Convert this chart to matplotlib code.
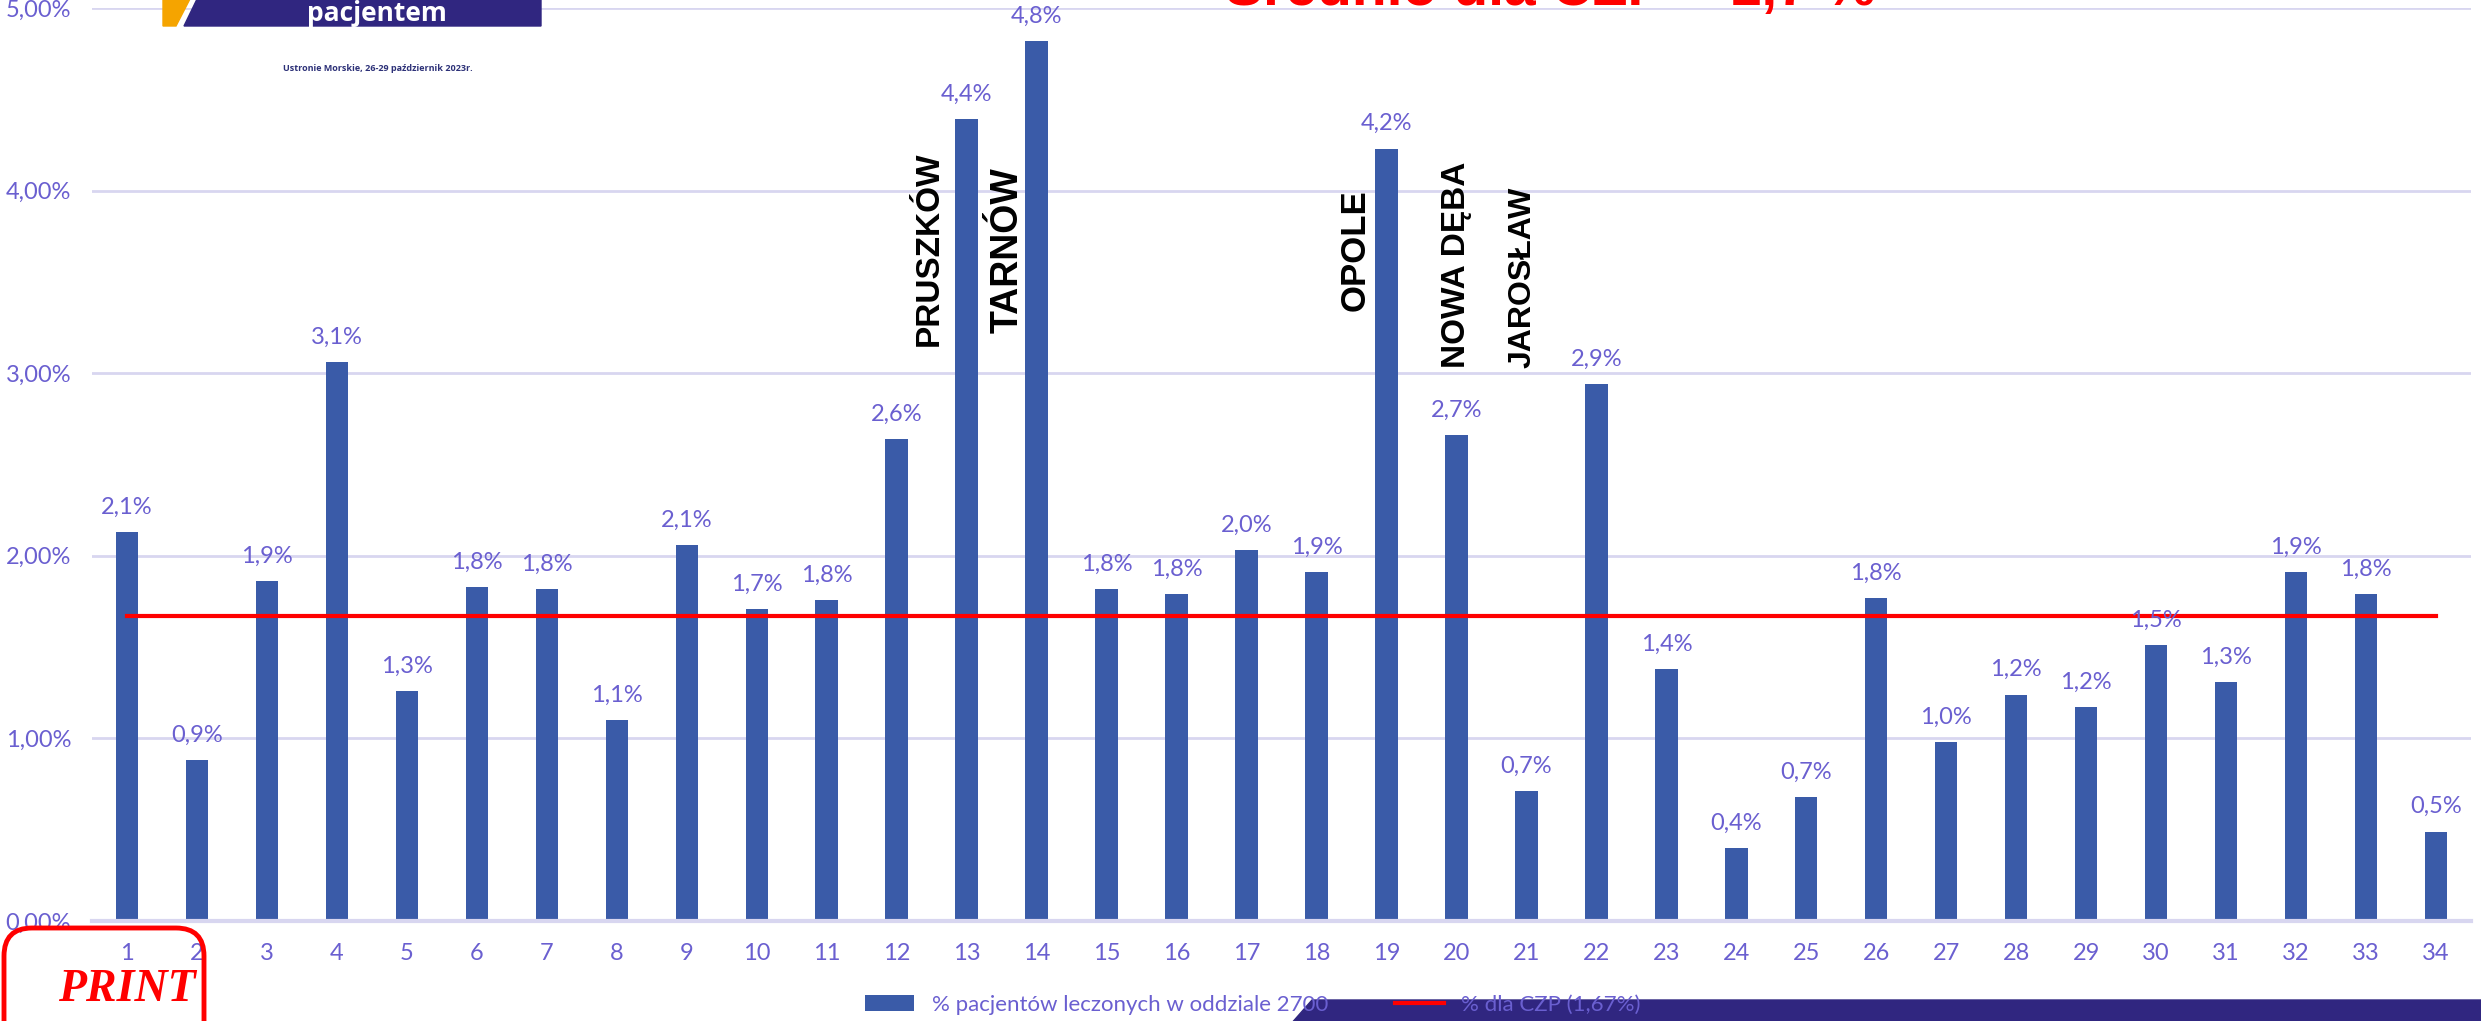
import matplotlib.pyplot as plt
import matplotlib.patches as mpatches
from matplotlib.transforms import IdentityTransform
from matplotlib import font_manager
import numpy as np

# data (percent)
categories = [str(i) for i in range(1, 35)]
values = [2.13, 0.88, 1.86, 3.06, 1.26, 1.83, 1.82, 1.10, 2.06, 1.71,
          1.76, 2.64, 4.39, 4.82, 1.82, 1.79, 2.03, 1.91, 4.23, 2.66,
          0.71, 2.94, 1.38, 0.40, 0.68, 1.77, 0.98, 1.24, 1.17, 1.51,
          1.31, 1.91, 1.79, 0.49]
czp_mean = 1.67
bar_label = '% pacjentów leczonych w oddziale 2700'
line_label = '% dla CZP (1,67%)'

city_names = ['PRUSZKÓW', 'TARNÓW', 'OPOLE', 'NOWA DĘBA', 'JAROSŁAW']
city_cat = [13, 14, 19, 20, 21]

W, H = 2481, 1021
BAR = '#3a5ba8'
PURPLE = '#6a5fd0'
NAVY = '#302680'

installed = {f.name for f in font_manager.fontManager.ttflist}
narrow = next((f for f in ['Liberation Sans Narrow', 'Lato', 'Open Sans'] if f in installed),
              'DejaVu Sans')

fig = plt.figure(figsize=(W / 100, H / 100), dpi=100)
ax = fig.add_axes([92 / W, 100 / H, 2379 / W, 913 / H])

x = np.arange(len(categories))
bars = ax.bar(x, values, width=0.32, color=BAR, zorder=2)
line, = ax.plot(x, [czp_mean] * len(x), color='#ff0000', lw=3, zorder=3)

for xi, v in zip(x, values):
    ax.text(xi, v + 0.1, f'{v:.1f}%'.replace('.', ','), ha='center', va='baseline',
            color=PURPLE, fontsize=17, family=narrow)

offsets = [-0.54, -0.41, -0.45, 0.0, -0.05]
bottoms = [3.15, 3.22, 3.34, 3.03, 3.03]
sizes = [24, 27, 25, 24, 23]
for name, c, off, b, s in zip(city_names, city_cat, offsets, bottoms, sizes):
    ax.text(c - 1 + off, b, name, rotation=90, ha='center', va='bottom',
            fontsize=s, fontweight='bold', family='Liberation Sans', color='black')

ax.set_xlim(-0.5, len(x) - 0.5)
ax.set_ylim(0, 5)
yt = np.arange(0, 5.01, 1)
ax.set_yticks(yt)
ax.set_yticklabels([f'{t:.2f}%'.replace('.', ',') for t in yt])
ax.set_xticks(x)
ax.set_xticklabels(categories)
ax.tick_params(axis='both', length=0, colors=PURPLE, labelsize=17)
ax.tick_params(axis='x', pad=16)
ax.tick_params(axis='y', pad=15)
for lab in ax.get_xticklabels() + ax.get_yticklabels():
    lab.set_family(narrow)
ax.grid(axis='y', color='#d8d6f0', lw=2, zorder=0)
ax.set_axisbelow(True)
for sp in ['top', 'right', 'left']:
    ax.spines[sp].set_visible(False)
ax.spines['bottom'].set_color('#d8d6f0')
ax.spines['bottom'].set_linewidth(3)

# slide overlays, in pixels measured from the top-left corner
T = IdentityTransform()
def px(xp, yp):
    return (xp, H - yp)

fig.patches.append(mpatches.Polygon([px(1290, 1025), px(1312, 1000), px(2485, 1000), px(2485, 1025)],
                                    closed=True, color=NAVY, transform=T, zorder=1))
fig.patches.append(mpatches.Polygon([px(163, 26), px(163, -5), px(192, -5), px(176, 26)],
                                    closed=True, color='#f5a400', transform=T, zorder=1))
fig.patches.append(mpatches.Polygon([px(184, 26), px(199, -5), px(541, -5), px(541, 26)],
                                    closed=True, color=NAVY, transform=T, zorder=1))
fig.text(*px(377, 13), 'pacjentem', transform=T, ha='center', va='center', color='white',
         fontsize=19, fontweight='bold', family='Open Sans')
fig.text(*px(378, 68), 'Ustronie Morskie, 26-29 październik 2023r.', transform=T,
         ha='center', va='center', color='#2d3178', fontsize=6.5, fontweight='bold',
         family='Open Sans')
fig.text(*px(1225, 5), 'Średnio dla CZP = 1,7 %', transform=T, ha='left', va='baseline',
         color='#ff0000', fontsize=41, fontweight='bold', family='Liberation Sans')

fig.patches.append(mpatches.FancyBboxPatch(px(4, 1060), 200, 132,
                                           boxstyle='round,pad=0,rounding_size=28',
                                           fill=False, ec='#ff0000', lw=3.5,
                                           transform=T, zorder=4))
fig.text(*px(127, 990), 'PRINT', transform=T, ha='center', va='center', color='#ff0000',
         fontsize=33, fontweight='bold', style='italic', family='Liberation Serif')

leg = fig.legend([bars, line], [bar_label, line_label], loc='center',
                 bbox_to_anchor=(0.505, 0.016), ncol=2, frameon=False,
                 handlelength=2.2, columnspacing=3.0,
                 prop={'family': narrow, 'size': 16})
for t in leg.get_texts():
    t.set_color(PURPLE)

fig.savefig('out.png', dpi=100)
